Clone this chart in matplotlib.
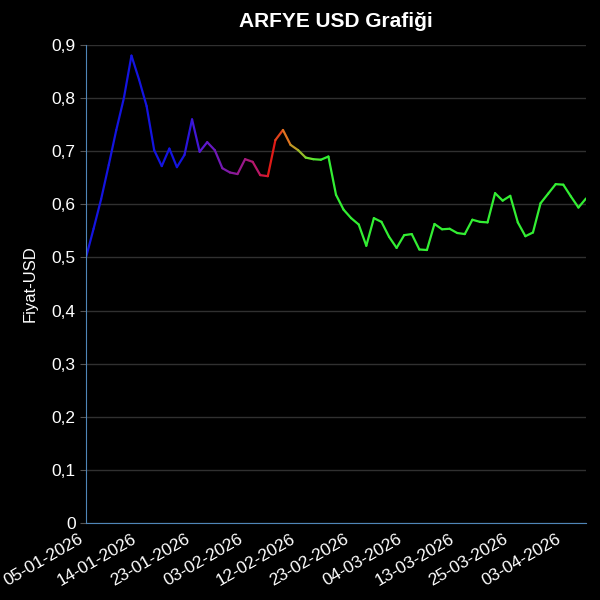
import matplotlib
matplotlib.use('Agg')
import matplotlib.pyplot as plt
import numpy as np
from matplotlib.collections import LineCollection
from matplotlib.colors import LinearSegmentedColormap
from matplotlib.ticker import FuncFormatter

plt.rcParams['font.family'] = ['Liberation Sans', 'DejaVu Sans']

# ARFYE fiyatlari (USD), islem gunu sirasiyla
prices = [0.500, 0.554, 0.610, 0.674, 0.740, 0.800, 0.880, 0.835, 0.785, 0.702,
          0.672, 0.705, 0.670, 0.693, 0.760, 0.699, 0.717, 0.702, 0.668, 0.660,
          0.657, 0.685, 0.680, 0.655, 0.653, 0.721, 0.740, 0.712, 0.702, 0.688,
          0.685, 0.684, 0.690, 0.618, 0.590, 0.574, 0.562, 0.522, 0.574, 0.567,
          0.539, 0.518, 0.542, 0.544, 0.515, 0.514, 0.563, 0.553, 0.554, 0.546,
          0.544, 0.571, 0.567, 0.566, 0.621, 0.607, 0.616, 0.566, 0.540, 0.547,
          0.602, 0.620, 0.638, 0.637, 0.615, 0.594, 0.611]

tick_labels = ['05-01-2026', '14-01-2026', '23-01-2026', '03-02-2026', '12-02-2026',
               '23-02-2026', '04-03-2026', '13-03-2026', '25-03-2026', '03-04-2026']
tick_step = 7

x = np.arange(len(prices))
y = np.array(prices)

cmap = LinearSegmentedColormap.from_list('arfye', [
    (0.0, '#1414e0'), (12 / 66, '#1414e0'), (15 / 66, '#5a18d0'),
    (19 / 66, '#8a1a9a'), (22 / 66, '#b8186a'), (24 / 66, '#e01818'),
    (26 / 66, '#e07a20'), (29 / 66, '#70e030'), (31 / 66, '#33ee33'),
    (1.0, '#33ee33')])

fig = plt.figure(figsize=(6, 6), dpi=100, facecolor='black')
ax = fig.add_axes([86 / 600, 1 - 523 / 600, 500 / 600, 478 / 600])
ax.set_facecolor('black')

pts = np.column_stack([x, y]).reshape(-1, 1, 2)
segs = np.concatenate([pts[:-1], pts[1:]], axis=1)
lc = LineCollection(segs, colors=cmap(x[:-1] / (len(x) - 1)), linewidth=1.6,
                    capstyle='round', joinstyle='round')
ax.add_collection(lc)

ax.set_xlim(0, len(x) - 1)
ax.set_ylim(0, 0.9)
ax.set_yticks(np.arange(0, 0.91, 0.1))
ax.yaxis.set_major_formatter(FuncFormatter(
    lambda v, p: '0' if abs(v) < 1e-9 else f'{v:.1f}'.replace('.', ',')))
ax.set_xticks(x[::tick_step][:len(tick_labels)])
ax.set_xticklabels(tick_labels, rotation=30, ha='right', rotation_mode='default')

ax.grid(axis='y', color='#303030', linewidth=1)
ax.set_axisbelow(True)
for s in ['top', 'right']:
    ax.spines[s].set_visible(False)
for s in ['left', 'bottom']:
    ax.spines[s].set_color('#4f86b8')
ax.tick_params(axis='x', length=0, pad=6, labelcolor='white', labelsize=12.5)
ax.tick_params(axis='y', colors='#555555', labelcolor='white', labelsize=12.5, length=4)

ax.set_ylabel('Fiyat-USD', color='white', fontsize=12, labelpad=10)
ax.set_title('ARFYE USD Grafiği', color='white', fontsize=15, fontweight='bold', pad=13)

fig.savefig('out.png', facecolor='black')
